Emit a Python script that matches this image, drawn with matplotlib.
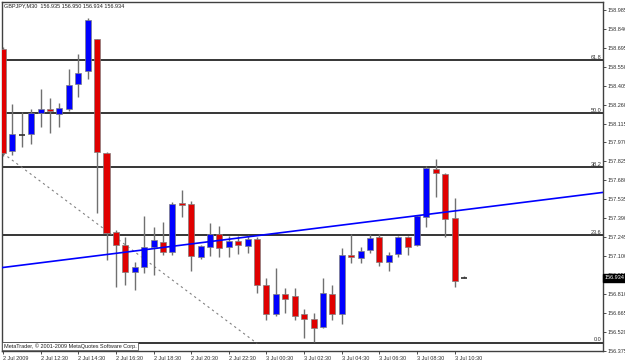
import matplotlib
matplotlib.use('Agg')
import matplotlib.pyplot as plt
import matplotlib.transforms as mtransforms

plt.rcParams['font.family'] = ['Liberation Sans', 'DejaVu Sans']

# GBPJPY M30, 2 Jul 2009 10:30 -> 3 Jul 2009 11:00 (50 bars)
opens = [158.686, 157.903, 158.026, 158.033, 158.194, 158.225, 158.187, 158.225, 158.417, 158.517,
         158.762, 157.887, 157.281, 157.181, 156.974, 157.012, 157.166, 157.204, 157.128, 157.503,
         157.496, 157.089, 157.166, 157.266, 157.166, 157.212, 157.174, 157.227, 156.874, 156.652,
         156.805, 156.797, 156.652, 156.621, 156.559, 156.805, 156.659, 157.104, 157.081, 157.143,
         157.243, 157.051, 157.112, 157.243, 157.181, 157.396, 157.765, 157.726, 157.388, 156.935]
highs = [158.701, 158.263, 158.202, 158.225, 158.379, 158.310, 158.271, 158.532, 158.647, 158.924,
         158.762, 157.895, 157.296, 157.243, 157.051, 157.404, 157.320, 157.358, 157.511, 157.603,
         157.519, 157.181, 157.350, 157.327, 157.250, 157.250, 157.258, 157.243, 156.935, 157.005,
         156.851, 156.851, 156.690, 156.667, 156.928, 156.874, 157.158, 157.266, 157.166, 157.266,
         157.266, 157.128, 157.250, 157.250, 157.411, 157.788, 157.841, 157.734, 157.542, 156.950]
lows = [157.864, 157.872, 157.933, 157.956, 158.087, 158.041, 158.087, 158.210, 158.317, 158.455,
        157.427, 157.066, 156.859, 156.874, 156.843, 156.966, 156.951, 157.104, 157.104, 157.396,
        156.982, 157.074, 157.097, 157.089, 157.089, 157.112, 157.120, 156.820, 156.606, 156.644,
        156.667, 156.606, 156.475, 156.438, 156.552, 156.606, 156.582, 157.043, 157.043, 157.120,
        157.020, 156.982, 157.089, 157.104, 157.174, 157.320, 157.550, 157.243, 156.866, 156.934]
closes = [157.887, 158.033, 158.026, 158.194, 158.225, 158.210, 158.233, 158.409, 158.501, 158.908,
          157.895, 157.273, 157.181, 156.974, 157.012, 157.166, 157.220, 157.128, 157.496, 157.488,
          157.097, 157.174, 157.266, 157.158, 157.212, 157.181, 157.227, 156.874, 156.652, 156.805,
          156.774, 156.644, 156.621, 156.552, 156.813, 156.659, 157.104, 157.089, 157.135, 157.235,
          157.051, 157.104, 157.243, 157.166, 157.404, 157.772, 157.734, 157.381, 156.912, 156.934]

date_labels = ['2 Jul 2009', '2 Jul 12:30', '2 Jul 14:30', '2 Jul 16:30', '2 Jul 18:30',
               '2 Jul 20:30', '2 Jul 22:30', '3 Jul 00:30', '3 Jul 02:30', '3 Jul 04:30',
               '3 Jul 06:30', '3 Jul 08:30', '3 Jul 10:30']
price_ticks = [158.985, 158.840, 158.695, 158.550, 158.405, 158.260, 158.115, 157.970, 157.825,
               157.680, 157.535, 157.390, 157.245, 157.100, 156.955, 156.810, 156.665, 156.520,
               156.375]

# fibonacci levels
fib_names = ['0.0', '23.6', '38.2', '50.0', '61.8']
fib_prices = [156.437, 157.259, 157.779, 158.195, 158.601]
# blue trend line (two anchor points, extended)
trend_x = [0, 45]
trend_y = [157.012, 157.418]
# dotted fibo anchor line
anchor_x = [0, 27]
anchor_y = [157.887, 156.430]

bull = '#0000ff'
bear = '#e00000'
wick = '#707070'
frame = '#404040'

fig = plt.figure(figsize=(6.25, 3.62), dpi=100)
fig.patch.set_facecolor('white')
ax = fig.add_axes([2 / 625, 1 - 351 / 362, 601 / 625, 349.5 / 362])
ax.set_facecolor('white')

n = len(opens)
xs = list(range(n))
w = 0.64

for i in xs:
    o, h, l, c = opens[i], highs[i], lows[i], closes[i]
    ax.vlines(i, l, h, color=wick, lw=1, zorder=3)
    if abs(c - o) < 0.003:
        ax.hlines(o, i - w / 2, i + w / 2, color='#303030', lw=1.2, zorder=4)
    else:
        col = bull if c > o else bear
        ax.bar(i, abs(c - o), bottom=min(o, c), width=w, color=col,
               edgecolor='#808080', linewidth=0.5, zorder=4)

# fibo lines + labels
lbl_tr = mtransforms.blended_transform_factory(ax.transAxes, ax.transData)
for name, p in zip(fib_names, fib_prices):
    ax.axhline(p, color='#353535', lw=1.4, zorder=2)
    ax.text(0.997, p + 0.004, name, transform=lbl_tr, ha='right', va='bottom',
            fontsize=4, color='#303030', zorder=6)

ax.axline((trend_x[0], trend_y[0]), (trend_x[1], trend_y[1]), color='#0000ff', lw=1.2, zorder=5)
ax.plot(anchor_x, anchor_y, color='#808080', lw=0.8, linestyle=(0, (2, 3)), zorder=2)

ax.set_xlim(-0.106, 63.76)
ax.set_ylim(156.372, 159.050)

ax.yaxis.tick_right()
ax.set_yticks(price_ticks)
ax.set_yticklabels([f'{p:.3f}' for p in price_ticks])
ax.tick_params(axis='y', length=2, width=0.6, pad=1, labelsize=4, colors='#303030')

ax.set_xticks(xs[::4])
ax.set_xticklabels(date_labels, ha='left')
ax.tick_params(axis='x', length=2, width=0.6, pad=1.5, labelsize=4, colors='#303030')

for s in ax.spines.values():
    s.set_color(frame)
    s.set_linewidth(1)

# last price marker on the axis
ax.text(1.003, closes[-1], f'{closes[-1]:.3f}', transform=lbl_tr, ha='left', va='center',
        fontsize=4, color='white', zorder=10, clip_on=False,
        bbox=dict(boxstyle='square,pad=0.25', fc='black', ec='black'))

fig.text(4 / 625, 1 - 6 / 362,
         f'GBPJPY,M30  {opens[-1]:.3f} {highs[-1]:.3f} {lows[-1]:.3f} {closes[-1]:.3f}',
         fontsize=4, color='#202020', va='center', ha='left')
fig.text(4 / 625, 1 - 346 / 362, 'MetaTrader, \u00a9 2001-2009 MetaQuotes Software Corp.',
         fontsize=4, color='#202020', va='center', ha='left', zorder=10,
         bbox=dict(boxstyle='square,pad=0.3', fc='white', ec=frame, lw=0.5))

fig.savefig('out.png', dpi=100)
